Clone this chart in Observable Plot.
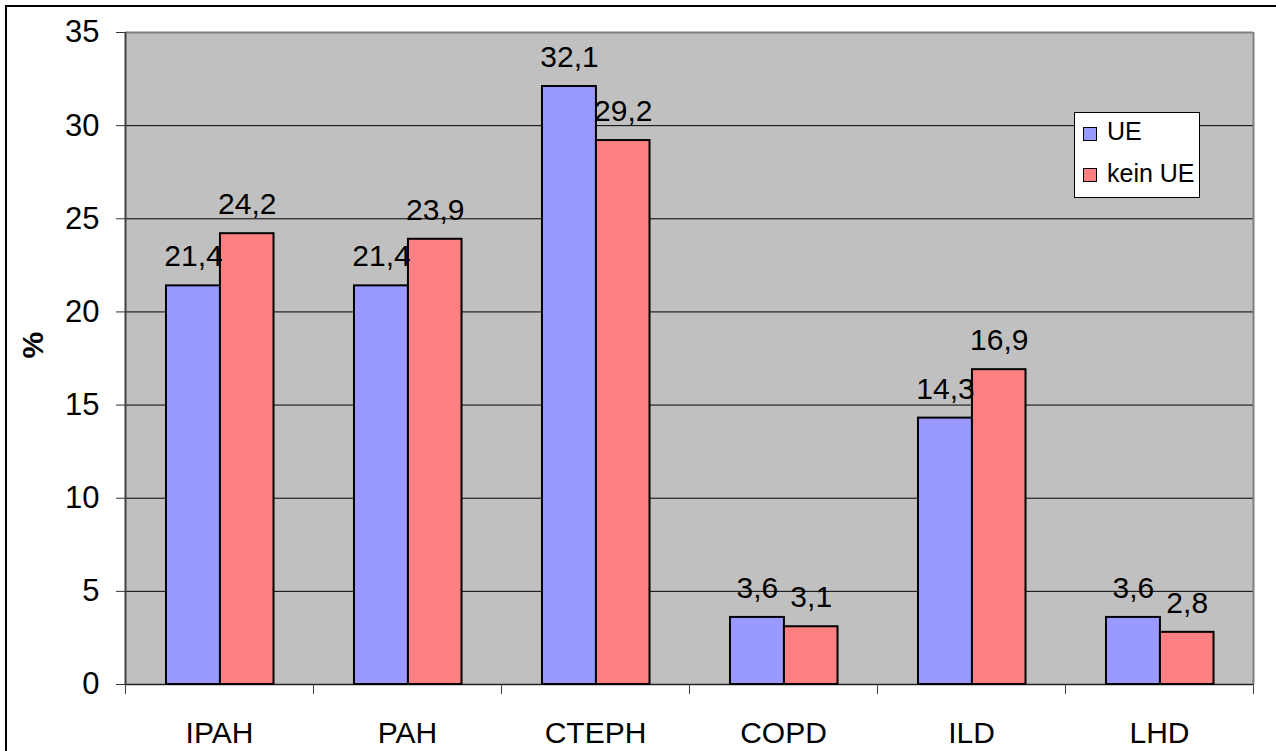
<!DOCTYPE html>
<html><head><meta charset="utf-8">
<script src="https://cdn.jsdelivr.net/npm/d3@7"></script>
<script src="https://cdn.jsdelivr.net/npm/@observablehq/plot@0.6"></script>
<style>
html,body{margin:0;padding:0;background:#fff;overflow:hidden;width:1276px;height:751px}
#wrap{position:relative;width:1276px;height:751px;overflow:hidden}
#wrap svg{position:absolute;left:0;top:0}
#border{position:absolute;left:5px;top:5px;width:1400px;height:900px;border:2px solid #000;box-sizing:border-box;pointer-events:none}
#legend{position:absolute;left:1074px;top:112px;width:126px;height:86px;box-sizing:border-box;border:1.5px solid #000;background:#fff;font-family:"Liberation Sans",Arial,sans-serif;font-size:25px;line-height:25px;color:#000}
.sw{position:absolute;left:8px;width:14px;height:14px;box-sizing:border-box;border:1.5px solid #000}
.lt{position:absolute;left:32px;white-space:nowrap}
</style>
</head><body>
<div id="wrap"><div id="border"></div><div id="chart"></div><div id="legend"></div></div>
<script>
// ---- data ----
const categories = ["IPAH", "PAH", "CTEPH", "COPD", "ILD", "LHD"];
const seriesNames = ["UE", "kein UE"];
const ueValues = [21.4, 21.4, 32.1, 3.6, 14.3, 3.6];
const keinUeValues = [24.2, 23.9, 29.2, 3.1, 16.9, 2.8];
const yTicks = [0, 5, 10, 15, 20, 25, 30, 35];

// ---- styling / layout ----
const seriesColors = {"UE": "#9999ff", "kein UE": "#ff8080"};
const slot = {"UE": [0.218, 0.505], "kein UE": [0.505, 0.79]};
const font = "Liberation Sans, Arial, sans-serif";
const fmt = v => v.toFixed(1).replace(".", ",");

const seriesData = {
  "UE": categories.map((c, i) => ({cat: c, i, value: ueValues[i]})),
  "kein UE": categories.map((c, i) => ({cat: c, i, value: keinUeValues[i]}))
};

const barMarks = seriesNames.map(s =>
  Plot.rectY(seriesData[s], {
    x1: d => d.i + slot[s][0], x2: d => d.i + slot[s][1], y1: 0, y2: "value",
    fill: seriesColors[s], stroke: "#000", strokeWidth: 2
  })
);
const labelMarks = seriesNames.map(s =>
  Plot.text(seriesData[s], {
    x: d => d.i + (slot[s][0] + slot[s][1]) / 2, y: "value",
    text: d => fmt(d.value), dy: -29, fontSize: 30, fill: "#000"
  })
);

const chart = Plot.plot({
  width: 1276, height: 751,
  marginLeft: 125, marginRight: 23, marginTop: 32, marginBottom: 67,
  style: {fontFamily: font, fontSize: "30px", background: "transparent", color: "#000"},
  x: {type: "linear", domain: [0, categories.length], axis: null, label: null},
  y: {domain: [0, 35], axis: null, label: null},
  marks: [
    Plot.frame({fill: "#c0c0c0", stroke: null}),
    Plot.ruleY(yTicks.filter(t => t > 0 && t < 35), {stroke: "#000", strokeWidth: 1}),
    Plot.ruleY([35], {stroke: "#808080", strokeWidth: 2}),
    Plot.ruleX([categories.length], {stroke: "#808080", strokeWidth: 2}),
    Plot.ruleX([0], {stroke: "#404040", strokeWidth: 2}),
    Plot.ruleY([0], {stroke: "#202020", strokeWidth: 1.5}),
    ...barMarks,
    ...labelMarks,
    Plot.axisY({ticks: yTicks, tickSize: 9, tickPadding: 17, stroke: "#303030", fontSize: 31, label: null, tickFormat: d => String(d)}),
    Plot.axisX({ticks: d3.range(0, categories.length + 1), tickSize: 10, label: null, tickFormat: () => "", stroke: "#404040"}),
    Plot.axisX({ticks: categories.map((c, i) => i + 0.5), tickSize: 0, tickPadding: 37, fontSize: 30, label: null,
      tickFormat: d => categories[Math.floor(d)]}),
    Plot.text(["%"], {frameAnchor: "left", dx: -92, rotate: -90, text: d => d, fontWeight: "bold", fontSize: 30, fill: "#000"})
  ]
});
document.getElementById("chart").appendChild(chart);

// legend
const legend = document.getElementById("legend");
seriesNames.forEach((s, k) => {
  const sw = document.createElement("div");
  sw.className = "sw";
  sw.style.top = (14 + k * 41) + "px";
  sw.style.background = seriesColors[s];
  const t = document.createElement("div");
  t.className = "lt";
  t.style.top = (6 + k * 42) + "px";
  t.textContent = s;
  legend.appendChild(sw);
  legend.appendChild(t);
});
</script>
</body></html>
